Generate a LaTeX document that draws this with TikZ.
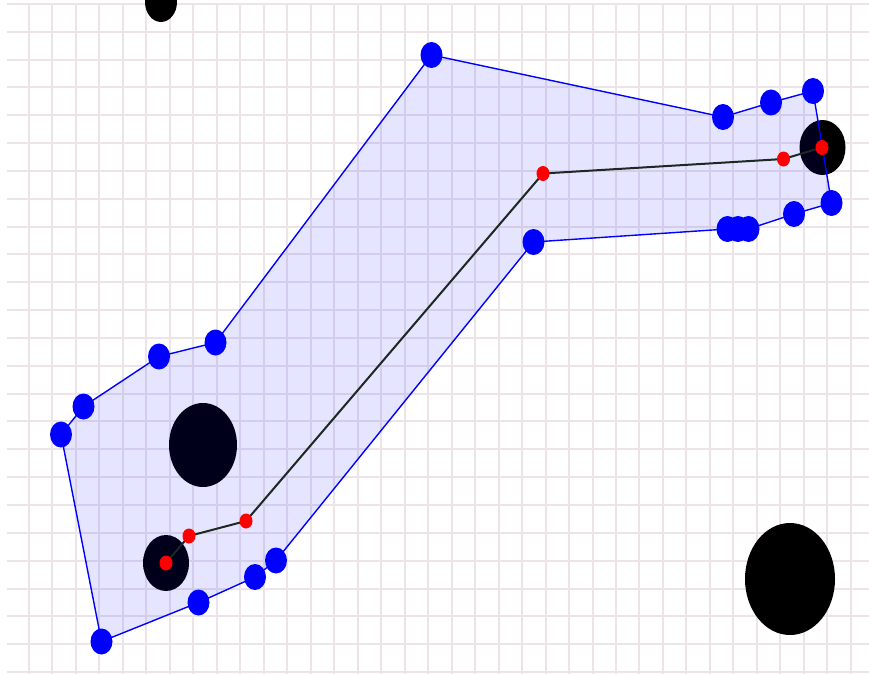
\documentclass[tikz,border=0pt]{standalone}
\definecolor{gridc}{RGB}{236,228,232}
\definecolor{pathc}{RGB}{28,40,32}
\tikzset{
  gridline/.style={draw=gridc, line width=2pt},
  obstacle/.style={fill=black},
  region/.style={draw=blue, line width=1.4pt, fill=blue, fill opacity=0.1, line join=round},
  route/.style={draw=pathc, line width=2pt, line join=round},
  bluedot/.style={fill=blue},
  reddot/.style={fill=red},
}
\begin{document}
\begin{tikzpicture}[x=1pt,y=-1pt]
\useasboundingbox (0,0) rectangle (869,674);
\fill[white] (0,0) rectangle (869,674);
% grid
\foreach \k in {0,...,24} \draw[gridline] (7,4+27.833*\k) -- (869,4+27.833*\k);
\foreach \k in {0,...,35} \draw[gridline] (29+23.48*\k,4) -- (29+23.48*\k,674);
% obstacles
\coordinate (o1) at (161,2);
\coordinate (o2) at (203,445);
\coordinate (o3) at (166,563);
\coordinate (o4) at (822.5,147.5);
\coordinate (o5) at (790,579);
\fill[obstacle] (o1) ellipse [x radius=16pt, y radius=20pt];
\fill[obstacle] (o2) ellipse [x radius=34pt, y radius=42pt];
\fill[obstacle] (o3) ellipse [x radius=23pt, y radius=28pt];
\fill[obstacle] (o4) ellipse [x radius=23pt, y radius=27.5pt];
\fill[obstacle] (o5) ellipse [x radius=45pt, y radius=56pt];
% polygon vertices
\coordinate (p1) at (431.5,55);
\coordinate (p2) at (723,117);
\coordinate (p3) at (771,102.5);
\coordinate (p4) at (813,91);
\coordinate (p5) at (831.5,203);
\coordinate (p6) at (794,214);
\coordinate (p7) at (748.5,229);
\coordinate (p8) at (738,229);
\coordinate (p9) at (727.5,229);
\coordinate (p10) at (533.5,242);
\coordinate (p11) at (276,560.5);
\coordinate (p12) at (255,577);
\coordinate (p13) at (198.5,602.5);
\coordinate (p14) at (101.5,641.5);
\coordinate (p15) at (61,434.5);
\coordinate (p16) at (83.5,406.5);
\coordinate (p17) at (159,356.5);
\coordinate (p18) at (215.5,342.5);
\path[region] (p1) -- (p2) -- (p3) -- (p4) -- (p5) -- (p6) -- (p7) -- (p8) -- (p9)
  -- (p10) -- (p11) -- (p12) -- (p13) -- (p14) -- (p15) -- (p16) -- (p17) -- (p18) -- cycle;
% route
\coordinate (r1) at (166,563);
\coordinate (r2) at (189,536);
\coordinate (r3) at (246,521);
\coordinate (r4) at (543,173.5);
\coordinate (r5) at (783.5,159);
\coordinate (r6) at (822,147.5);
\draw[route] (r1) -- (r2) -- (r3) -- (r4) -- (r5) -- (r6);
\foreach \r in {r1,r2,r3,r4,r5,r6}
  \fill[reddot] (\r) ellipse [x radius=6.5pt, y radius=7.5pt];
\foreach \p in {p1,p2,p3,p4,p5,p6,p7,p8,p9,p10,p11,p12,p13,p14,p15,p16,p17,p18}
  \fill[bluedot] (\p) ellipse [x radius=11pt, y radius=13pt];
\end{tikzpicture}
\end{document}
